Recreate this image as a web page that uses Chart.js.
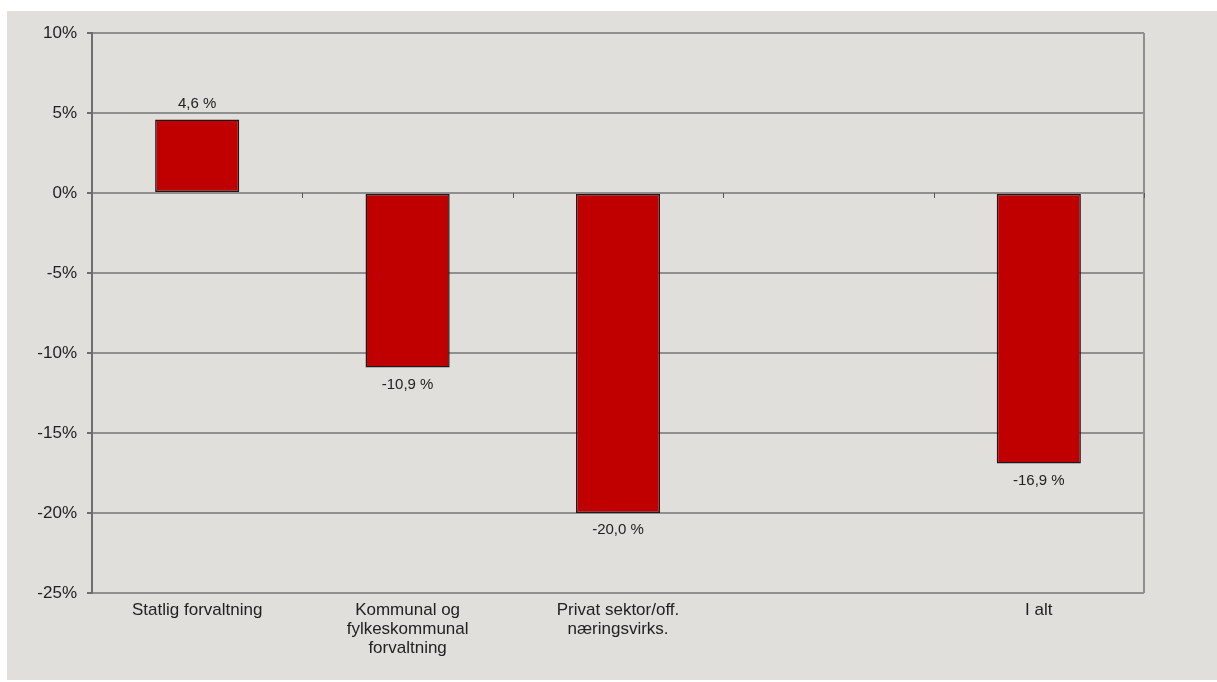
<!DOCTYPE html>
<html>
<head>
<meta charset="utf-8">
<script src="https://cdn.jsdelivr.net/npm/chart.js@4/dist/chart.umd.min.js"></script>
<style>
  body { margin: 0; background: #ffffff; }
  #wrap { position: absolute; left: 7px; top: 11px; width: 1210px; height: 669px; background: #e0dfdb; }
</style>
</head>
<body>
<div id="wrap"><canvas id="grafico"></canvas></div>
<script>
var kategorier = [
    "Statlig forvaltning",
    ["Kommunal og", "fylkeskommunal", "forvaltning"],
    ["Privat sektor/off.", "næringsvirks."],
    "",
    "I alt"
];

var endring = [4.6, -10.9, -20.0, null, -16.9];

var yMin = -25;
var yMax = 10;
var yStep = 5;

function formatProsent(v) {
    return v.toFixed(1).replace(".", ",") + " %";
}

// verdietiketter over/under stolpene
var etiketter = {
    id: "etiketter",
    afterDatasetsDraw: function (chart) {
        var ctx = chart.ctx;
        var meta = chart.getDatasetMeta(0);
        ctx.save();
        ctx.font = "15px 'Liberation Sans', Arial, sans-serif";
        ctx.fillStyle = "#222";
        ctx.textAlign = "center";
        ctx.textBaseline = "middle";
        meta.data.forEach(function (bar, i) {
            var v = endring[i];
            if (v === null) return;
            var y = v >= 0 ? bar.y - 16 : bar.y + 17;
            ctx.fillText(formatProsent(v), bar.x, y);
        });
        ctx.restore();
    }
};

// høyre ramme og små streker på nullinjen
var ramme = {
    id: "ramme",
    afterDraw: function (chart) {
        var ctx = chart.ctx;
        var a = chart.chartArea;
        var y0 = chart.scales.y.getPixelForValue(0);
        ctx.save();
        ctx.strokeStyle = "#8f8f8f";
        ctx.lineWidth = 2;
        ctx.beginPath();
        ctx.moveTo(a.right, a.top);
        ctx.lineTo(a.right, a.bottom);
        ctx.stroke();
        ctx.strokeStyle = "#555";
        ctx.lineWidth = 1;
        var bredde = (a.right - a.left) / kategorier.length;
        for (var i = 1; i <= kategorier.length; i++) {
            var px = Math.round(a.left + i * bredde) + 0.5;
            ctx.beginPath();
            ctx.moveTo(px, y0);
            ctx.lineTo(px, y0 + 5);
            ctx.stroke();
        }
        ctx.restore();
    }
};

var ref = document.querySelector("#grafico").getContext("2d");

var grafico = new Chart(ref, {
    type: "bar",
    data: {
        labels: kategorier,
        datasets: [{
            data: endring,
            backgroundColor: "#c00000",
            borderColor: "#1a1a1a",
            borderWidth: 1.5,
            borderSkipped: false,
            categoryPercentage: 1,
            barPercentage: 0.4
        }]
    },
    options: {
        responsive: true,
        maintainAspectRatio: false,
        animation: false,
        layout: { padding: { top: 22, right: 73, left: 0, bottom: 0 } },
        plugins: {
            legend: { display: false },
            tooltip: { enabled: false }
        },
        scales: {
            x: {
                grid: { display: false, drawTicks: false },
                border: { display: false },
                ticks: {
                    color: "#222",
                    font: { family: "'Liberation Sans', Arial, sans-serif", size: 17, lineHeight: 1.12 },
                    padding: 8,
                    maxRotation: 0,
                    autoSkip: false
                },
                afterFit: function (s) { s.height = 87; }
            },
            y: {
                min: yMin,
                max: yMax,
                grid: { color: "#8f8f8f", lineWidth: 2, tickLength: 5, tickColor: "#6e6e6e" },
                border: { color: "#6e6e6e", width: 2 },
                ticks: {
                    stepSize: yStep,
                    color: "#222",
                    font: { family: "'Liberation Sans', Arial, sans-serif", size: 17 },
                    padding: 10,
                    callback: function (v) { return v + "%"; }
                },
                afterFit: function (s) { s.width = 85; }
            }
        }
    },
    plugins: [etiketter, ramme]
});
</script>
</body>
</html>
